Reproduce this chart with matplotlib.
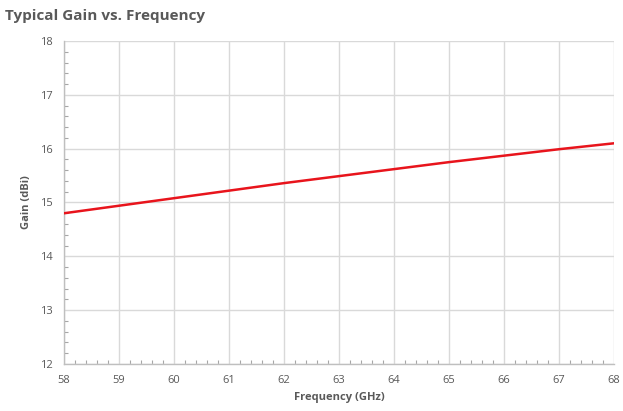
import matplotlib
matplotlib.use("Agg")
import matplotlib.pyplot as plt
from matplotlib.ticker import MultipleLocator

freq_ghz = [58, 59, 60, 61, 62, 63, 64, 65, 66, 67, 68]
gain_dbi = [14.80, 14.94, 15.08, 15.22, 15.36, 15.49, 15.62, 15.75, 15.87, 15.99, 16.10]

plt.rcParams['font.family'] = ['Open Sans', 'DejaVu Sans']

fig = plt.figure(figsize=(6.23, 4.11), dpi=100)
ax = fig.add_axes([0.1027, 0.1144, 0.8829, 0.7858])

ax.plot(freq_ghz, gain_dbi, color='#e8141c', linewidth=1.8, zorder=3)

ax.set_xlim(58, 68)
ax.set_ylim(12, 18)
ax.xaxis.set_major_locator(MultipleLocator(1))
ax.yaxis.set_major_locator(MultipleLocator(1))
ax.xaxis.set_minor_locator(MultipleLocator(0.2))
ax.yaxis.set_minor_locator(MultipleLocator(0.2))
ax.grid(True, which='major', color='#d9d9d9', linewidth=1.0)
ax.tick_params(which='major', length=0, labelsize=8, labelcolor='#595959', pad=8)
ax.tick_params(which='minor', direction='in', length=3, color='#a6a6a6', width=0.8)

for side in ('top', 'right'):
    ax.spines[side].set_visible(False)
for side in ('left', 'bottom'):
    ax.spines[side].set_color('#bfbfbf')
    ax.spines[side].set_linewidth(1.0)

ax.set_xlabel('Frequency (GHz)', fontsize=8, fontweight='bold', color='#595959', labelpad=4)
ax.set_ylabel('Gain (dBi)', fontsize=8, fontweight='bold', color='#595959', labelpad=6)

fig.text(0.008, 0.978, 'Typical Gain vs. Frequency', fontsize=11, fontweight='bold',
         color='#595959', ha='left', va='top')

fig.savefig('out.png', dpi=100)
